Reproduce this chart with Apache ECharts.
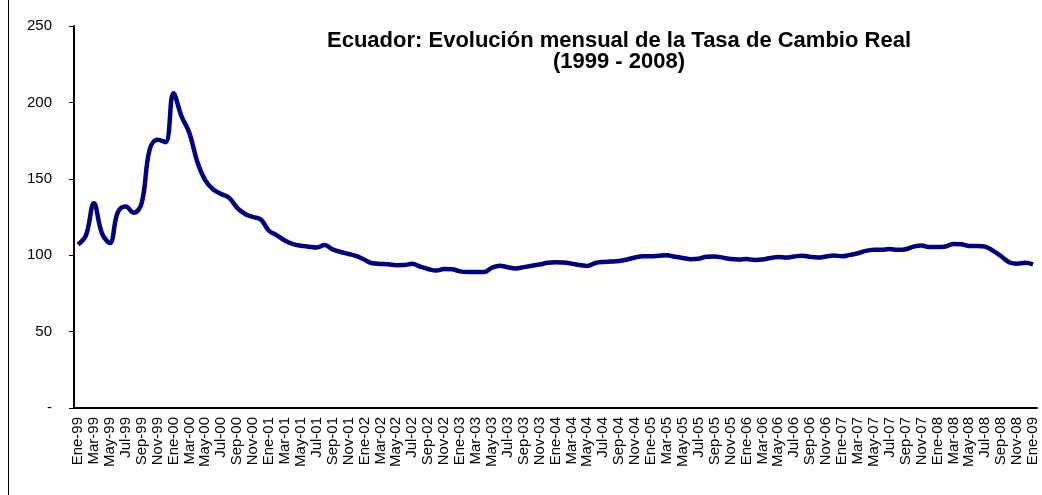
<!DOCTYPE html>
<html>
<head>
<meta charset="utf-8">
<title>Ecuador - Tasa de Cambio Real</title>
<script src="https://cdn.jsdelivr.net/npm/echarts@6/dist/echarts.min.js"></script>
<style>
  html, body { margin: 0; padding: 0; background: #fff; }
  #chart { width: 1042px; height: 495px; }
</style>
</head>
<body>
<div id="chart"></div>
<script>
// meses en español, Ene-99 .. Ene-09
const monthNames = ['Ene', 'Feb', 'Mar', 'Abr', 'May', 'Jun', 'Jul', 'Ago', 'Sep', 'Oct', 'Nov', 'Dic']
const years = ['99', '00', '01', '02', '03', '04', '05', '06', '07', '08', '09']

// indice de tipo de cambio real
const tcr = [
  107, 113, 134, 114.5, 108, 128, 131.8, 127.8, 134, 169, 175.5, 174,
  206, 191, 180, 161, 149, 143, 140, 137.5, 131, 127, 125, 123.2,
  116, 113, 109.6, 107.3, 106.2, 105.6, 105, 106.6, 103.8, 102.1, 100.8, 99.4,
  97, 94.7, 94.3, 94, 93.5, 93.6, 94.4, 92.5, 91, 90, 90.9, 90.8,
  89.4, 89, 89, 89, 91.8, 93.1, 92.1, 91.3, 92.2, 93.1, 93.9, 95,
  95.4, 95.2, 94.5, 93.6, 93, 94.9, 95.6, 95.8, 96.2, 97.2, 98.5, 99.3,
  99.3, 99.6, 99.9, 99, 98.2, 97.4, 97.7, 99, 99.2, 98.4, 97.5, 97.2,
  97.5, 96.9, 97.2, 98.2, 98.8, 98.5, 99.2, 99.7, 98.9, 98.5, 99.2, 99.8,
  99.3, 100.2, 101.3, 102.8, 103.5, 103.6, 104, 103.5, 103.9, 105.6, 106.3, 105.3,
  105.3, 105.7, 107.4, 107.2, 106.1, 106.1, 105.6, 102.8, 99.3, 95.4, 94.4, 95,
  94
]

const yTicks = [0, 50, 100, 150, 200, 250]

const categories = []
years.forEach(y => {
  monthNames.forEach(m => {
    if (categories.length < tcr.length) categories.push(m + '-' + y)
  })
})

const fontFamily = '"Liberation Sans", Arial, sans-serif'

const chart = echarts.init(document.getElementById('chart'))

const option = {
  animation: false,
  title: {
    text: 'Ecuador: Evolución mensual de la Tasa de Cambio Real\n(1999 - 2008)',
    left: 614,
    top: 25,
    textAlign: 'center',
    textStyle: {
      color: '#000',
      fontFamily: fontFamily,
      fontWeight: 'bold',
      fontSize: 22,
      lineHeight: 21
    }
  },
  grid: { left: 74, right: 5, top: 26, bottom: 87 },
  xAxis: {
    type: 'category',
    data: categories,
    boundaryGap: true,
    axisLine: { lineStyle: { color: '#000', width: 2 } },
    axisTick: { interval: 1, length: 5, lineStyle: { color: '#000', width: 1 } },
    axisLabel: {
      interval: 1,
      rotate: 90,
      margin: 9,
      color: '#000',
      fontFamily: fontFamily,
      fontSize: 15
    },
    splitLine: { show: false }
  },
  yAxis: {
    type: 'value',
    min: yTicks[0],
    max: yTicks[yTicks.length - 1],
    interval: 50,
    axisLine: { show: true, lineStyle: { color: '#000', width: 2 } },
    axisTick: { show: true, length: 5, lineStyle: { color: '#000' } },
    axisLabel: {
      margin: 22,
      color: '#000',
      fontFamily: fontFamily,
      fontSize: 15,
      formatter: v => (v === 0 ? '-' : String(v))
    },
    splitLine: { show: false }
  },
  graphic: [
    {
      type: 'line',
      shape: { x1: 8.5, y1: 0, x2: 8.5, y2: 495 },
      style: { stroke: '#000', lineWidth: 1 }
    }
  ],
  series: [
    {
      name: 'TCR',
      type: 'line',
      data: tcr,
      smooth: 0.4,
      symbol: 'none',
      lineStyle: { color: '#000080', width: 4.5 }
    }
  ]
}

chart.setOption(option)
</script>
</body>
</html>
